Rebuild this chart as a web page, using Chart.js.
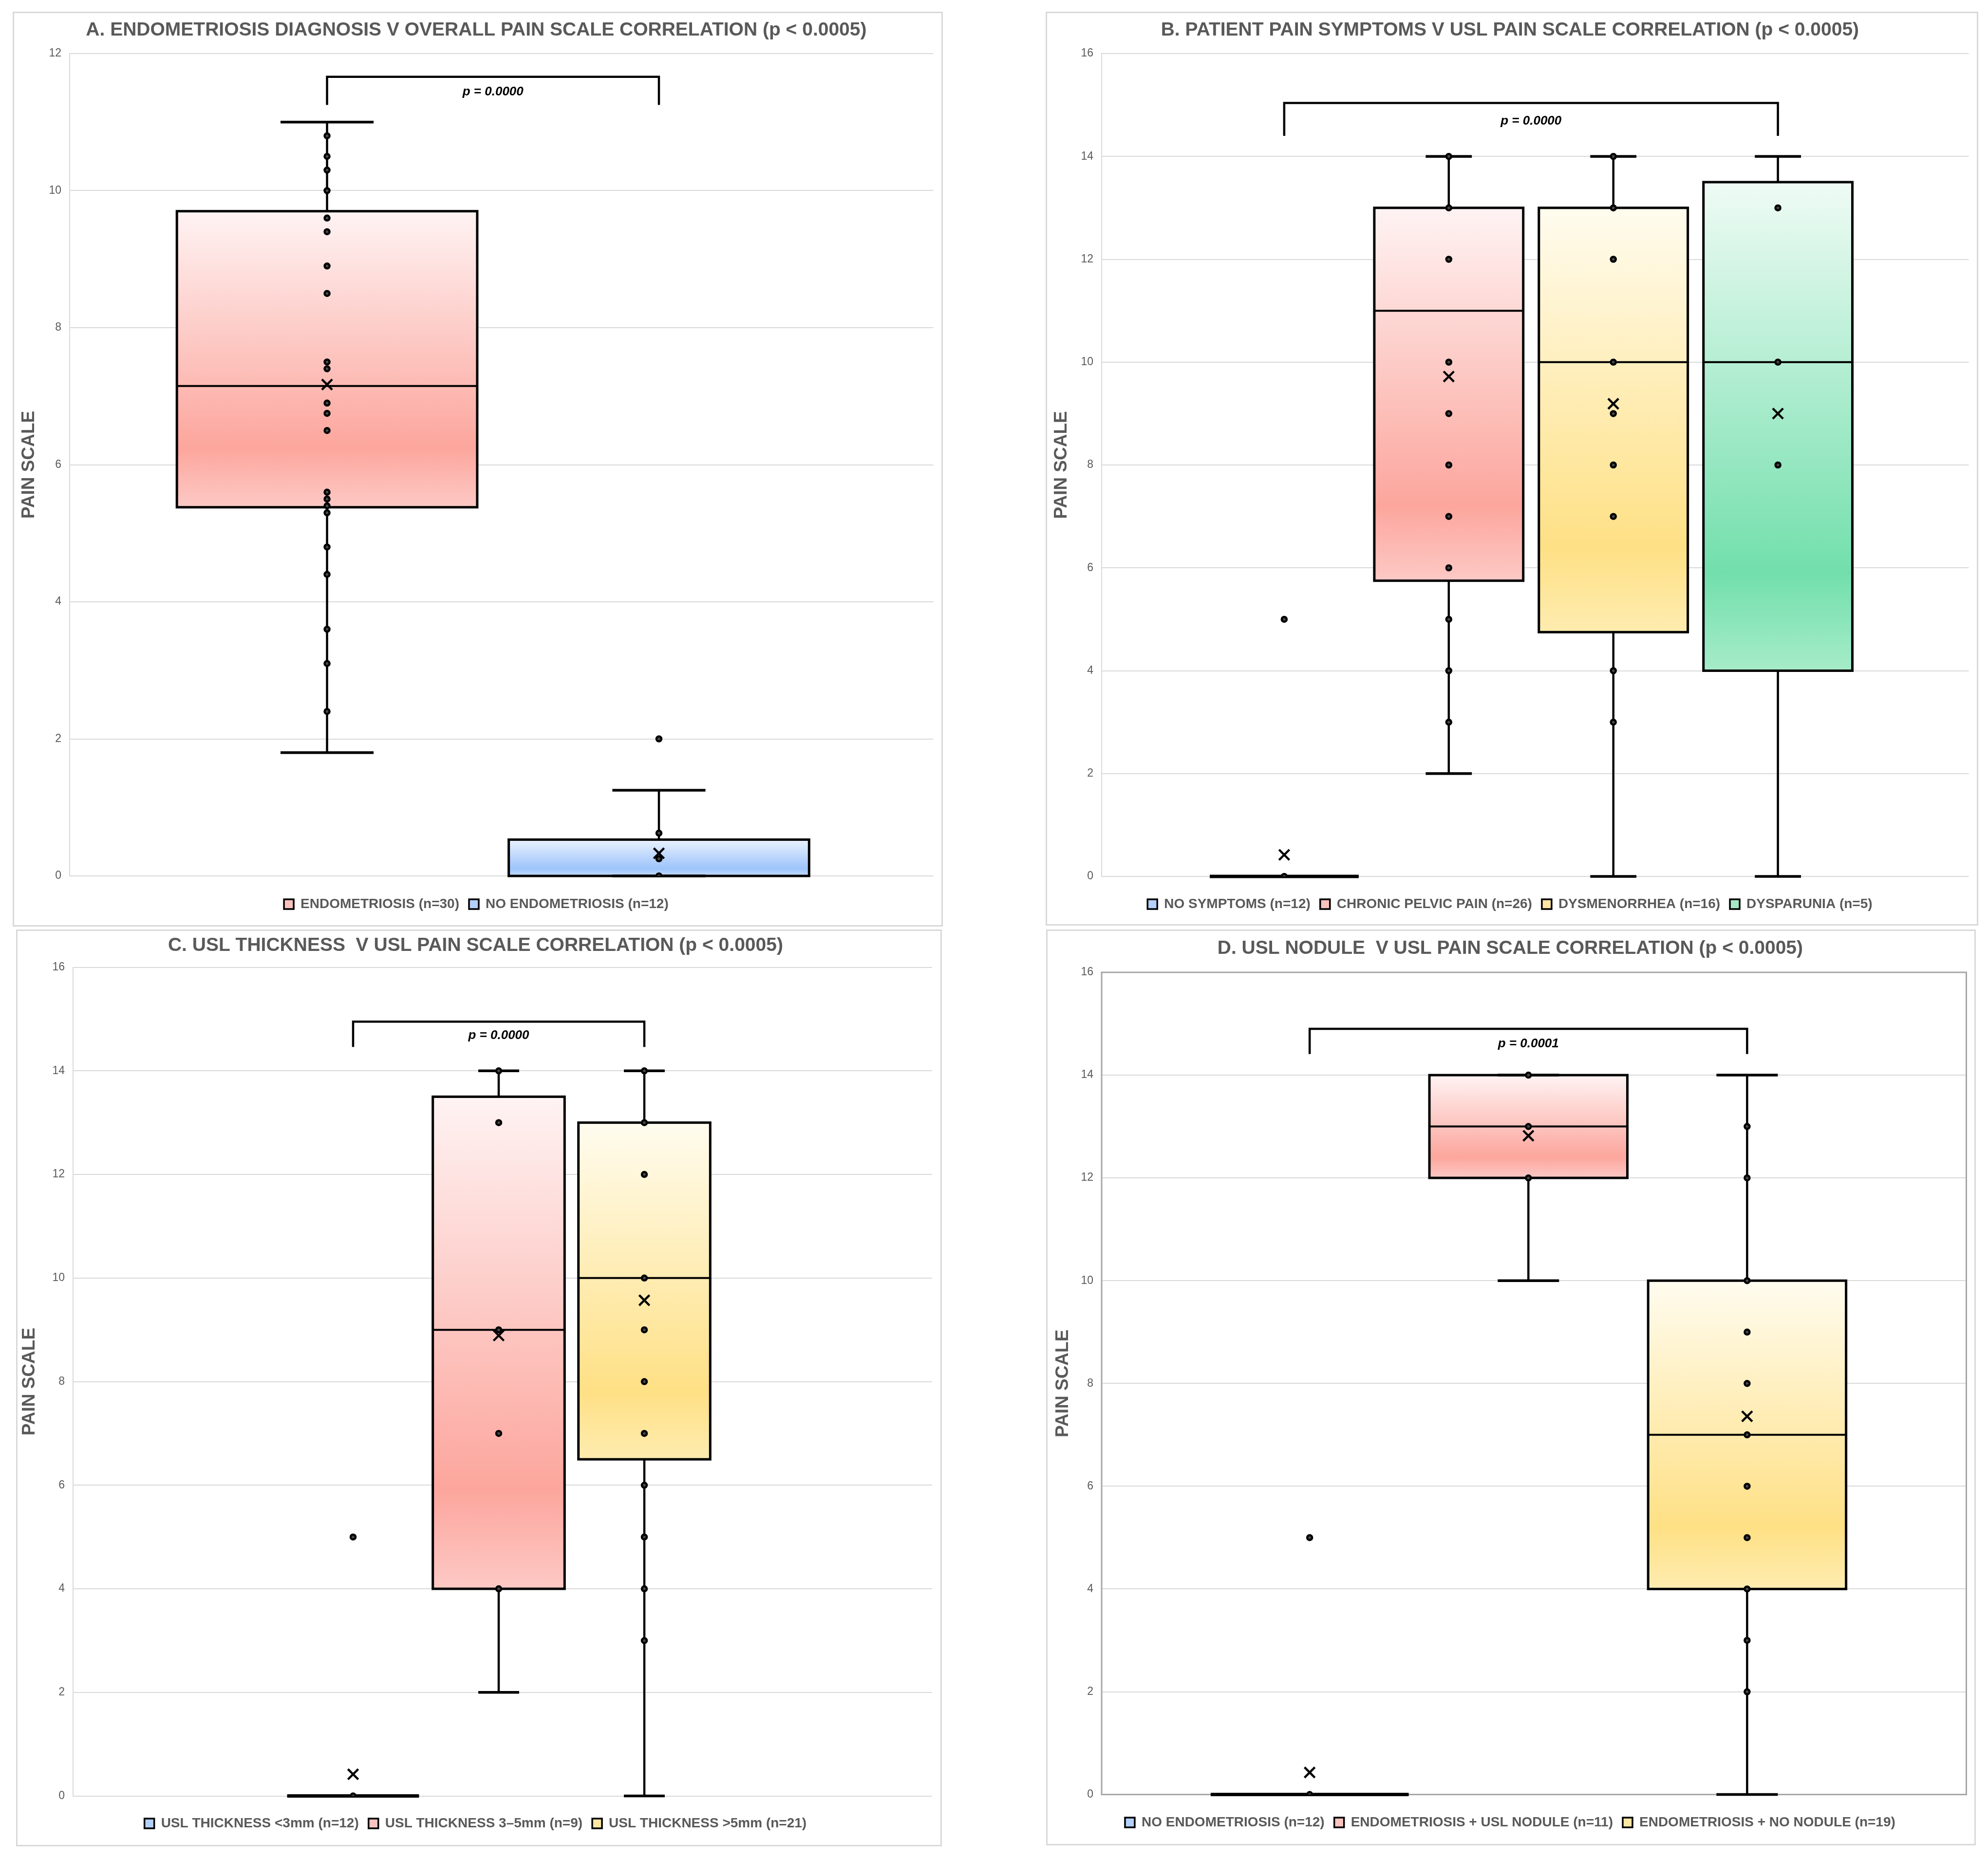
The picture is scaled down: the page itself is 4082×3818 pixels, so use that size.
<!DOCTYPE html>
<html><head><meta charset="utf-8">
<script src="https://cdn.jsdelivr.net/npm/chart.js@4.4.1/dist/chart.umd.min.js"></script>
<style>
html,body{margin:0;padding:0;background:#fff;}
body{width:4082px;height:3818px;position:relative;overflow:hidden;}
.panel{position:absolute;}
canvas{display:block;}
</style></head><body>
<div class="panel" id="pA"><canvas id="cA"></canvas></div>
<div class="panel" id="pB"><canvas id="cB"></canvas></div>
<div class="panel" id="pC"><canvas id="cC"></canvas></div>
<div class="panel" id="pD"><canvas id="cD"></canvas></div>
<script>
// ---------------- DATA ----------------
const yStep = 2;

// Panel A
const titleA = 'A. ENDOMETRIOSIS DIAGNOSIS V OVERALL PAIN SCALE CORRELATION (p < 0.0005)';
const yMaxA = 12;
const groupsA = ['ENDOMETRIOSIS (n=30)', 'NO ENDOMETRIOSIS (n=12)'];
const q1A = [5.38, 0];
const medianA = [7.15, 0];
const q3A = [9.7, 0.53];
const meanA = [7.17, 0.33];
const whiskerLowA = [1.8, 0];
const whiskerHighA = [11.0, 1.25];
const pointsA = [
  [10.8, 10.5, 10.3, 10.0, 9.6, 9.4, 8.9, 8.5, 7.5, 7.4, 6.9, 6.75, 6.5, 5.6, 5.5, 5.4, 5.3, 4.8, 4.4, 3.6, 3.1, 2.4],
  [2.0, 0.625, 0.25, 0]
];
const colorsA = ['pink', 'blue'];
const bracketA = {from: 1, to: 2, top: 11.66, end: 11.25, labelY: 11.44, label: 'p = 0.0000'};

// Panel B
const titleB = 'B. PATIENT PAIN SYMPTOMS V USL PAIN SCALE CORRELATION (p < 0.0005)';
const yMaxB = 16;
const groupsB = ['NO SYMPTOMS (n=12)', 'CHRONIC PELVIC PAIN (n=26)', 'DYSMENORRHEA (n=16)', 'DYSPARUNIA (n=5)'];
const q1B = [0, 5.75, 4.75, 4];
const medianB = [0, 11, 10, 10];
const q3B = [0, 13, 13, 13.5];
const meanB = [0.42, 9.72, 9.19, 9.0];
const whiskerLowB = [0, 2, 0, 0];
const whiskerHighB = [0, 14, 14, 14];
const pointsB = [
  [5, 0],
  [14, 13, 12, 10, 9, 8, 7, 6, 5, 4, 3],
  [14, 13, 12, 10, 9, 8, 7, 4, 3],
  [13, 10, 8]
];
const colorsB = ['blue', 'pink', 'yellow', 'green'];
const bracketB = {from: 1, to: 4, top: 15.04, end: 14.4, labelY: 14.69, label: 'p = 0.0000'};

// Panel C
const titleC = 'C. USL THICKNESS  V USL PAIN SCALE CORRELATION (p < 0.0005)';
const yMaxC = 16;
const groupsC = ['USL THICKNESS <3mm (n=12)', 'USL THICKNESS 3\u20135mm (n=9)', 'USL THICKNESS >5mm (n=21)'];
const q1C = [0, 4, 6.5];
const medianC = [0, 9, 10];
const q3C = [0, 13.5, 13];
const meanC = [0.42, 8.89, 9.57];
const whiskerLowC = [0, 2, 0];
const whiskerHighC = [0, 14, 14];
const pointsC = [
  [5, 0],
  [14, 13, 9, 7, 4],
  [14, 13, 12, 10, 9, 8, 7, 6, 5, 4, 3]
];
const colorsC = ['blue', 'pink', 'yellow'];
const bracketC = {from: 1, to: 3, top: 14.95, end: 14.46, labelY: 14.68, label: 'p = 0.0000'};

// Panel D
const titleD = 'D. USL NODULE  V USL PAIN SCALE CORRELATION (p < 0.0005)';
const yMaxD = 16;
const groupsD = ['NO ENDOMETRIOSIS (n=12)', 'ENDOMETRIOSIS + USL NODULE (n=11)', 'ENDOMETRIOSIS + NO NODULE (n=19)'];
const q1D = [0, 12, 4];
const medianD = [0, 13, 7];
const q3D = [0, 14, 10];
const meanD = [0.43, 12.82, 7.36];
const whiskerLowD = [0, 10, 0];
const whiskerHighD = [0, 14, 14];
const pointsD = [
  [5, 0],
  [14, 13, 12],
  [13, 12, 10, 9, 8, 7, 6, 5, 4, 3, 2]
];
const colorsD = ['blue', 'pink', 'yellow'];
const bracketD = {from: 1, to: 3, top: 14.9, end: 14.41, labelY: 14.61, label: 'p = 0.0001'};

// ---------------- STYLE ----------------
const palettes = {
  blue:   {stops: ['#eaf2fe', '#9dc4fb', '#c3dbfd'], swatch: '#b3d1fc'},
  pink:   {stops: ['#fef3f3', '#fca69d', '#fdc9c5'], swatch: '#f9c3be'},
  yellow: {stops: ['#fffcef', '#fee085', '#feecb0'], swatch: '#fde7a3'},
  green:  {stops: ['#effbf5', '#72dfac', '#a6ecc9'], swatch: '#a5eac8'}
};
const FONT = "'Liberation Sans', Arial, Helvetica, sans-serif";
Chart.defaults.font.family = FONT;
Chart.defaults.color = '#595959';

// layout frames (page px)
const layoutA = {frame: {x: 26, y: 24, w: 1910, h: 1879}, plot: {l: 143, t: 110, r: 1918, b: 1799}, titleCY: 62, legendCY: 1857, axisTitleCX: 60, centers: [672, 1354], plotBorder: false};
const layoutB = {frame: {x: 2147, y: 24, w: 1915, h: 1877}, plot: {l: 2262, t: 110, r: 4043, b: 1800}, titleCY: 62, legendCY: 1857, axisTitleCX: 2180, centers: [2637, 3651], plotBorder: false};
const layoutC = {frame: {x: 33, y: 1909, w: 1901, h: 1883}, plot: {l: 150, t: 1986.5, r: 1914, b: 3688.6}, titleCY: 1942, legendCY: 3745, axisTitleCX: 61, centers: [725, 1323], plotBorder: false};
const layoutD = {frame: {x: 2148, y: 1909, w: 1909, h: 1881}, plot: {l: 2262, t: 1997, r: 4041, b: 3685.6}, titleCY: 1948, legendCY: 3743, axisTitleCX: 2183, centers: [2690, 3590], plotBorder: true};

// ---------------- PLUGINS ----------------
const boxDecor = {
  id: 'boxDecor',
  afterDatasetDraw(chart, args, opts) {
    if (args.index !== 0 || !opts.q1) return;
    const ys = chart.scales.y, ctx = chart.ctx;
    ctx.save();
    ctx.strokeStyle = '#000';
    ctx.lineCap = 'butt';
    args.meta.data.forEach((bar, i) => {
      const x = bar.x, w = bar.width, hw = w / 2, cw = w * 0.155;
      const pQ1 = ys.getPixelForValue(opts.q1[i]);
      const pQ3 = ys.getPixelForValue(opts.q3[i]);
      const pMed = ys.getPixelForValue(opts.median[i]);
      const pLo = ys.getPixelForValue(opts.lo[i]);
      const pHi = ys.getPixelForValue(opts.hi[i]);
      ctx.lineWidth = 4.5;
      ctx.beginPath();
      ctx.moveTo(x, pQ3); ctx.lineTo(x, pHi);
      ctx.moveTo(x, pQ1); ctx.lineTo(x, pLo);
      ctx.stroke();
      ctx.lineWidth = 5.5;
      ctx.beginPath();
      ctx.moveTo(x - cw, pHi); ctx.lineTo(x + cw, pHi);
      ctx.moveTo(x - cw, pLo); ctx.lineTo(x + cw, pLo);
      ctx.stroke();
      ctx.lineWidth = 5;
      ctx.lineJoin = 'miter';
      if (Math.abs(pQ1 - pQ3) < 0.5) {
        ctx.lineWidth = 7;
        ctx.beginPath(); ctx.moveTo(x - hw, pQ1); ctx.lineTo(x + hw, pQ1); ctx.stroke();
      } else {
        ctx.strokeRect(x - hw, pQ3, w, pQ1 - pQ3);
      }
      ctx.lineWidth = 4;
      ctx.beginPath(); ctx.moveTo(x - hw, pMed); ctx.lineTo(x + hw, pMed); ctx.stroke();
    });
    ctx.restore();
  }
};

const frameDecor = {
  id: 'frameDecor',
  beforeDraw(chart) {
    const ctx = chart.ctx;
    ctx.save();
    ctx.fillStyle = '#ffffff';
    ctx.fillRect(0, 0, chart.width, chart.height);
    ctx.strokeStyle = '#d9d9d9';
    ctx.lineWidth = 3;
    ctx.strokeRect(1.5, 1.5, chart.width - 3, chart.height - 3);
    ctx.restore();
  },
  beforeDatasetsDraw(chart, args, opts) {
    if (!opts.plotBorder) return;
    const a = chart.chartArea, ctx = chart.ctx;
    ctx.save();
    ctx.strokeStyle = '#a6a6a6';
    ctx.lineWidth = 3;
    ctx.strokeRect(a.left, a.top, a.right - a.left, a.bottom - a.top);
    ctx.restore();
  },
  afterDatasetsDraw(chart, args, opts) {
    const ctx = chart.ctx, xs = chart.scales.x, ys = chart.scales.y;
    const b = opts.bracket;
    if (b) {
      const x1 = xs.getPixelForValue(b.from), x2 = xs.getPixelForValue(b.to);
      const yT = ys.getPixelForValue(b.top), yE = ys.getPixelForValue(b.end);
      ctx.save();
      ctx.strokeStyle = '#000';
      ctx.lineWidth = 4.5;
      ctx.lineJoin = 'miter';
      ctx.beginPath();
      ctx.moveTo(x1, yE); ctx.lineTo(x1, yT); ctx.lineTo(x2, yT); ctx.lineTo(x2, yE);
      ctx.stroke();
      ctx.fillStyle = '#000';
      ctx.font = 'italic bold 26px ' + FONT;
      ctx.textAlign = 'center';
      ctx.textBaseline = 'middle';
      ctx.fillText(b.label, (x1 + x2) / 2, ys.getPixelForValue(b.labelY));
      ctx.restore();
    }
  }
};

// ---------------- BUILDER ----------------
function buildPanel(panelId, canvasId, L, title, yMax, groups, q1, median, q3, mean, lo, hi, points, colors, bracket) {
  const f = L.frame;
  const div = document.getElementById(panelId);
  div.style.left = f.x + 'px'; div.style.top = f.y + 'px';
  div.style.width = f.w + 'px'; div.style.height = f.h + 'px';
  const cv = document.getElementById(canvasId);
  cv.width = f.w; cv.height = f.h;
  cv.style.width = f.w + 'px'; cv.style.height = f.h + 'px';

  const titleSize = 39, titleLH = titleSize * 1.2;
  const axisTitleSize = 37, axisTitleLH = axisTitleSize * 1.2;
  const legendSize = 28, legendPad = 20;
  const pl = L.plot.l - f.x, pt = L.plot.t - f.y, pr = L.plot.r - f.x, pb = L.plot.b - f.y;
  const tc = L.titleCY - f.y, lc = L.legendCY - f.y, ac = L.axisTitleCX - f.x;
  const padTop = tc - titleLH / 2;
  const titlePadBottom = pt - padTop - titleLH;
  const padLeft = ac - axisTitleLH / 2;
  const yAxisWidth = pl - padLeft;
  const padRight = f.w - pr;
  const legendTop = lc - legendPad - legendSize / 2;
  const legendH = legendSize + legendPad + 10;
  const padBottom = f.h - (legendTop + legendH);
  const xAxisHeight = legendTop - pb;

  const N = groups.length;
  const c0 = L.centers[0], cN = L.centers[1];
  const spacing = (cN - c0) / (N - 1);
  const xMin = 1 - (c0 - L.plot.l) / spacing;
  const xMax = N + (L.plot.r - cN) / spacing;

  const boxData = groups.map((g, i) => ({x: i + 1, y: [q1[i], q3[i]]}));
  const ptData = [];
  points.forEach((arr, i) => arr.forEach(v => ptData.push({x: i + 1, y: v})));
  const meanData = mean.map((v, i) => ({x: i + 1, y: v}));

  return new Chart(cv, {
    type: 'bar',
    data: {
      datasets: [
        {
          type: 'bar',
          label: 'Box',
          data: boxData,
          borderWidth: 0,
          categoryPercentage: 0.905,
          barPercentage: 1,
          order: 3,
          backgroundColor(c) {
            const pal = palettes[colors[c.dataIndex] || colors[0]];
            if (c.type !== 'data' || !c.chart.scales.y) return pal.swatch;
            const ys = c.chart.scales.y;
            const top = ys.getPixelForValue(q3[c.dataIndex]);
            let bot = ys.getPixelForValue(q1[c.dataIndex]);
            if (bot - top < 1) bot = top + 1;
            const g = c.chart.ctx.createLinearGradient(0, top, 0, bot);
            g.addColorStop(0, pal.stops[0]);
            g.addColorStop(0.8, pal.stops[1]);
            g.addColorStop(1, pal.stops[2]);
            return g;
          }
        },
        {
          type: 'scatter',
          label: 'Points',
          data: ptData,
          pointStyle: 'circle',
          pointRadius: 5,
          pointBorderWidth: 4.5,
          pointBorderColor: '#000000',
          pointBackgroundColor: '#4a4a4a',
          order: 1
        },
        {
          type: 'scatter',
          label: 'Mean',
          data: meanData,
          pointStyle: 'crossRot',
          pointRadius: 15,
          pointBorderWidth: 4.5,
          pointBorderColor: '#000000',
          pointBackgroundColor: '#000000',
          order: 0
        }
      ]
    },
    options: {
      responsive: false,
      animation: false,
      devicePixelRatio: 1,
      events: [],
      layout: {padding: {top: padTop, left: padLeft, right: padRight, bottom: padBottom}},
      scales: {
        x: {
          type: 'linear',
          min: xMin, max: xMax,
          offset: false,
          ticks: {display: false},
          grid: {display: false, drawTicks: false},
          border: {display: false},
          afterBuildTicks(s) { s.ticks = []; },
          afterFit(s) { s.height = xAxisHeight; }
        },
        y: {
          type: 'linear',
          min: 0, max: yMax,
          ticks: {stepSize: yStep, font: {size: 23}, color: '#595959', padding: 17},
          grid: {color: '#d9d9d9', lineWidth: 2, drawTicks: false},
          border: {display: true, color: '#d9d9d9', width: 2},
          title: {display: true, text: 'PAIN SCALE', color: '#595959', font: {size: axisTitleSize, weight: 'bold'}, padding: {top: 0, bottom: 0}},
          afterFit(s) { s.width = yAxisWidth; }
        }
      },
      plugins: {
        title: {
          display: true, text: title, color: '#595959',
          font: {size: titleSize, weight: 'bold'},
          padding: {top: 0, bottom: titlePadBottom}
        },
        legend: {
          display: true, position: 'bottom', align: 'center',
          onClick: null,
          labels: {
            font: {size: legendSize, weight: 'bold'},
            color: '#595959',
            boxWidth: 20, boxHeight: 20,
            padding: legendPad,
            generateLabels() {
              return groups.map((g, i) => ({
                text: g,
                fillStyle: palettes[colors[i]].swatch,
                strokeStyle: '#000000',
                lineWidth: 3.5,
                fontColor: '#595959',
                hidden: false,
                datasetIndex: 0,
                index: i
              }));
            }
          }
        },
        tooltip: {enabled: false},
        boxDecor: {q1: q1, q3: q3, median: median, lo: lo, hi: hi},
        frameDecor: {bracket: bracket, plotBorder: L.plotBorder}
      }
    },
    plugins: [boxDecor, frameDecor]
  });
}

buildPanel('pA', 'cA', layoutA, titleA, yMaxA, groupsA, q1A, medianA, q3A, meanA, whiskerLowA, whiskerHighA, pointsA, colorsA, bracketA);
buildPanel('pB', 'cB', layoutB, titleB, yMaxB, groupsB, q1B, medianB, q3B, meanB, whiskerLowB, whiskerHighB, pointsB, colorsB, bracketB);
buildPanel('pC', 'cC', layoutC, titleC, yMaxC, groupsC, q1C, medianC, q3C, meanC, whiskerLowC, whiskerHighC, pointsC, colorsC, bracketC);
buildPanel('pD', 'cD', layoutD, titleD, yMaxD, groupsD, q1D, medianD, q3D, meanD, whiskerLowD, whiskerHighD, pointsD, colorsD, bracketD);
</script>
</body></html>
